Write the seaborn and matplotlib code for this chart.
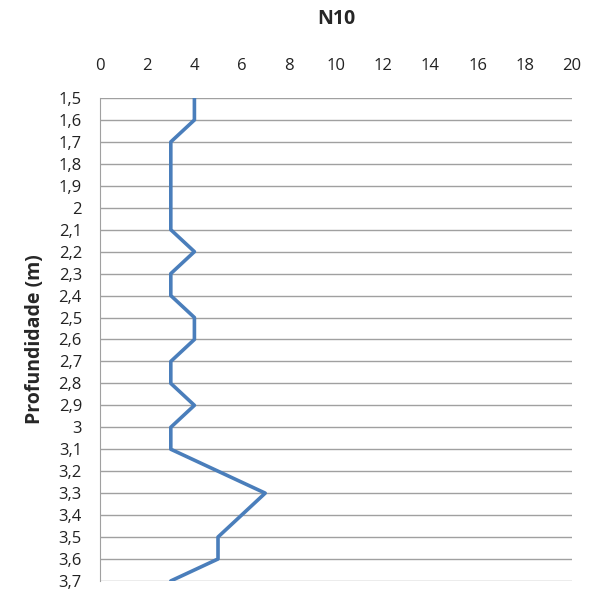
import matplotlib
matplotlib.use("Agg")
import matplotlib.pyplot as plt
import seaborn as sns
import pandas as pd

# depth (m) and N10 blow counts
depths = [1.5, 1.6, 1.7, 1.8, 1.9, 2.0, 2.1, 2.2, 2.3, 2.4, 2.5, 2.6,
          2.7, 2.8, 2.9, 3.0, 3.1, 3.2, 3.3, 3.4, 3.5, 3.6, 3.7]
n10 = [4, 4, 3, 3, 3, 3, 3, 4, 3, 3, 4, 4,
       3, 3, 4, 3, 3, 5, 7, 6, 5, 5, 3]
depth_labels = ["1,5", "1,6", "1,7", "1,8", "1,9", "2", "2,1", "2,2", "2,3", "2,4", "2,5", "2,6",
                "2,7", "2,8", "2,9", "3", "3,1", "3,2", "3,3", "3,4", "3,5", "3,6", "3,7"]
x_ticks = [0, 2, 4, 6, 8, 10, 12, 14, 16, 18, 20]

df = pd.DataFrame({"depth": depths, "n10": n10})

sns.set_style("white")
plt.rcParams['font.family'] = ['Open Sans', 'DejaVu Sans']

fig = plt.figure(figsize=(5.9, 5.94), dpi=100)
ax = fig.add_axes([0.1695, 0.022, 0.8, 0.813])

sns.lineplot(data=df, x="n10", y="depth", sort=False, orient="y",
             color="#4a7ebb", lw=2.6, ax=ax)

ax.set_xlim(0, 20)
ax.set_ylim(3.7, 1.5)
ax.set_xticks(x_ticks)
ax.xaxis.tick_top()
ax.set_yticks(depths)
ax.set_yticklabels(depth_labels)
ax.tick_params(axis="both", length=0, labelsize=12, colors="#222222")
ax.tick_params(axis="x", pad=17)
ax.tick_params(axis="y", pad=13)

ax.grid(axis="y", color="#a0a0a0", lw=1)
ax.grid(axis="x", visible=False)
for s in ["top", "right", "bottom"]:
    ax.spines[s].set_visible(False)
ax.spines["left"].set_color("#a0a0a0")

ax.set_xlabel("")
ax.set_ylabel("Profundidade (m)", fontsize=14, fontweight="bold", labelpad=10)
ax.set_title("N10", fontsize=14, fontweight="bold", pad=53)

plt.savefig("out.png", dpi=100)
plt.close()
